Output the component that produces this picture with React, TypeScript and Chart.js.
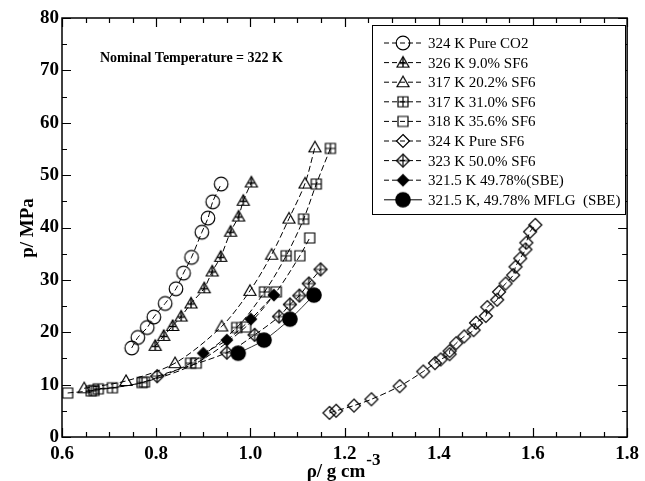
import React, { useEffect, useRef } from 'react';
import { Chart, registerables } from 'chart.js';
Chart.register(...registerables);

const FONT = '"Liberation Serif", "Times New Roman", serif';

// ---- data ----
const seriesLabels = [
  '324 K Pure CO2',
  '326 K 9.0% SF6',
  '317 K 20.2% SF6',
  '317 K 31.0% SF6',
  '318 K 35.6% SF6',
  '324 K Pure SF6',
  '323 K 50.0% SF6',
  '321.5 K 49.78%(SBE)',
  '321.5 K, 49.78% MFLG  (SBE)',
];

const co2Rho = [0.748, 0.761, 0.781, 0.795, 0.819, 0.842, 0.858, 0.875, 0.897, 0.910, 0.920, 0.938];
const co2P = [17.0, 19.0, 20.9, 22.9, 25.5, 28.3, 31.3, 34.3, 39.1, 41.8, 44.9, 48.3];

const sf6_9Rho = [0.798, 0.816, 0.835, 0.853, 0.874, 0.902, 0.919, 0.937, 0.958, 0.975, 0.985, 1.002];
const sf6_9P = [17.4, 19.3, 21.2, 23.0, 25.5, 28.4, 31.6, 34.4, 39.2, 42.1, 45.1, 48.6];

const sf6_20Rho = [0.647, 0.736, 0.840, 0.939, 0.999, 1.045, 1.082, 1.116, 1.137];
const sf6_20P = [9.3, 10.7, 14.1, 21.1, 27.9, 34.8, 41.7, 48.4, 55.3];

const sf6_31Rho = [0.662, 0.677, 0.707, 0.770, 0.873, 0.971, 1.030, 1.076, 1.113, 1.140, 1.170];
const sf6_31P = [8.8, 9.2, 9.4, 10.4, 14.1, 20.9, 27.7, 34.6, 41.6, 48.3, 55.1];

const sf6_35Rho = [0.612, 0.668, 0.775, 0.885, 0.990, 1.055, 1.105, 1.126];
const sf6_35P = [8.4, 8.9, 10.5, 14.1, 21.0, 27.7, 34.6, 38.0];

const pureSf6Rho = [1.168, 1.182, 1.220, 1.257, 1.317, 1.367, 1.392, 1.404, 1.423, 1.423, 1.437, 1.454, 1.474, 1.479, 1.500, 1.503, 1.524, 1.528, 1.542, 1.558, 1.563, 1.573, 1.584, 1.586, 1.594, 1.605];
const pureSf6P = [4.6, 5.0, 6.0, 7.2, 9.7, 12.5, 14.1, 14.8, 15.8, 16.4, 17.9, 19.2, 20.4, 21.8, 23.1, 24.8, 26.2, 27.7, 29.3, 30.9, 32.5, 34.1, 35.8, 37.1, 39.2, 40.5];

const sf6_50Rho = [0.802, 0.950, 1.009, 1.061, 1.084, 1.104, 1.124, 1.149];
const sf6_50P = [11.6, 16.1, 19.5, 23.0, 25.3, 27.0, 29.3, 32.0];

const sbeRho = [0.900, 0.950, 1.001, 1.050];
const sbeP = [16.0, 18.5, 22.5, 27.1];

const mflgRho = [0.974, 1.029, 1.084, 1.135];
const mflgP = [16.0, 18.5, 22.5, 27.1];

const xTickValues = [0.6, 0.8, 1.0, 1.2, 1.4, 1.6, 1.8];
const yTickValues = [0, 10, 20, 30, 40, 50, 60, 70, 80];

const titleText = 'Nominal Temperature = 322 K';

// ---- markers ----
type Kind = 'circle' | 'triCross' | 'tri' | 'sqPlus' | 'sq' | 'dia' | 'diaPlus' | 'diaFill' | 'circFill';
const markerKinds: Kind[] = ['circle', 'triCross', 'tri', 'sqPlus', 'sq', 'dia', 'diaPlus', 'diaFill', 'circFill'];

function makeMarker(kind: Kind): HTMLCanvasElement {
  const S = 20;
  const c = document.createElement('canvas');
  c.width = S;
  c.height = S;
  const g = c.getContext('2d')!;
  const m = S / 2;
  g.strokeStyle = '#000';
  g.fillStyle = '#000';
  g.lineWidth = 1.2;
  g.beginPath();
  switch (kind) {
    case 'circle':
      g.arc(m, m, 6.8, 0, Math.PI * 2);
      g.stroke();
      break;
    case 'circFill':
      g.arc(m, m, 7.8, 0, Math.PI * 2);
      g.fill();
      break;
    case 'tri':
    case 'triCross': {
      g.moveTo(m, m - 6);
      g.lineTo(m - 6, m + 4.5);
      g.lineTo(m + 6, m + 4.5);
      g.closePath();
      g.stroke();
      if (kind === 'triCross') {
        g.beginPath();
        g.moveTo(m, m - 6);
        g.lineTo(m, m + 4.5);
        g.moveTo(m - 3.5, m + 0.5);
        g.lineTo(m + 3.5, m + 0.5);
        g.lineWidth = 1.4;
        g.stroke();
      }
      break;
    }
    case 'sq':
    case 'sqPlus':
      g.rect(m - 5, m - 5, 10, 10);
      g.stroke();
      if (kind === 'sqPlus') {
        g.beginPath();
        g.moveTo(m, m - 5);
        g.lineTo(m, m + 5);
        g.moveTo(m - 5, m);
        g.lineTo(m + 5, m);
        g.stroke();
      }
      break;
    case 'dia':
    case 'diaPlus':
    case 'diaFill':
      g.moveTo(m, m - 6.5);
      g.lineTo(m + 6.5, m);
      g.lineTo(m, m + 6.5);
      g.lineTo(m - 6.5, m);
      g.closePath();
      if (kind === 'diaFill') g.fill();
      else g.stroke();
      if (kind === 'diaPlus') {
        g.beginPath();
        g.moveTo(m, m - 6.5);
        g.lineTo(m, m + 6.5);
        g.moveTo(m - 6.5, m);
        g.lineTo(m + 6.5, m);
        g.stroke();
      }
      break;
  }
  return c;
}

const seriesRho = [co2Rho, sf6_9Rho, sf6_20Rho, sf6_31Rho, sf6_35Rho, pureSf6Rho, sf6_50Rho, sbeRho, mflgRho];
const seriesP = [co2P, sf6_9P, sf6_20P, sf6_31P, sf6_35P, pureSf6P, sf6_50P, sbeP, mflgP];
const DASH = [6, 3];

export default function App() {
  const ref = useRef<HTMLCanvasElement | null>(null);

  useEffect(() => {
    const canvas = ref.current!;
    const markers = markerKinds.map(makeMarker);

    const datasets = seriesLabels.map((label, i) => ({
      label,
      data: seriesRho[i].map((x, j) => ({ x, y: seriesP[i][j] })),
      showLine: true,
      borderColor: i === 8 ? '#333' : '#000',
      borderWidth: 1,
      borderDash: i === 8 ? [] : DASH,
      tension: 0.3,
      pointStyle: markers[i] as any,
      pointRadius: 7,
      backgroundColor: 'transparent',
    }));

    const overlay = {
      id: 'overlay',
      afterDatasetsDraw(chart: any) {
        const ctx = chart.ctx as CanvasRenderingContext2D;
        const { left, right, top, bottom } = chart.chartArea;
        const xs = chart.scales.x;
        const ys = chart.scales.y;
        ctx.save();
        ctx.strokeStyle = '#000';
        ctx.lineWidth = 1.5;
        ctx.setLineDash([]);
        ctx.strokeRect(left, top, right - left, bottom - top);
        ctx.lineWidth = 1.2;
        ctx.beginPath();
        for (let i = 0; i <= 24; i++) {
          const px = Math.round(xs.getPixelForValue(0.6 + i * 0.05)) + 0.5;
          const len = i % 4 === 0 ? 9 : 5;
          ctx.moveTo(px, bottom);
          ctx.lineTo(px, bottom - len);
          ctx.moveTo(px, top);
          ctx.lineTo(px, top + len);
        }
        for (let i = 0; i <= 16; i++) {
          const py = Math.round(ys.getPixelForValue(i * 5)) + 0.5;
          const len = i % 2 === 0 ? 9 : 5;
          ctx.moveTo(left, py);
          ctx.lineTo(left + len, py);
          ctx.moveTo(right, py);
          ctx.lineTo(right - len, py);
        }
        ctx.stroke();
        ctx.restore();
      },
      afterDraw(chart: any) {
        const ctx = chart.ctx as CanvasRenderingContext2D;
        ctx.save();
        ctx.fillStyle = '#000';
        // title text
        ctx.font = `bold 14px ${FONT}`;
        ctx.textBaseline = 'middle';
        ctx.textAlign = 'left';
        ctx.fillText(titleText, 100, 58);

        // y-axis title
        ctx.save();
        ctx.translate(28, 228);
        ctx.rotate(-Math.PI / 2);
        ctx.textAlign = 'center';
        ctx.font = `bold 19px ${FONT}`;
        ctx.fillText('p/ MPa', 0, 0);
        ctx.restore();

        // x-axis title with superscript
        ctx.font = `bold 19px ${FONT}`;
        ctx.textAlign = 'left';
        const main = 'ρ/ g cm';
        const w = ctx.measureText(main).width;
        const x0 = 342 - w / 2 - 6;
        ctx.fillText(main, x0, 472);
        ctx.font = `bold 17px ${FONT}`;
        ctx.fillText('-3', x0 + w + 1, 461);

        // legend
        const bx = 372.5, by = 25.5, bw = 253, bh = 189;
        ctx.fillStyle = '#fff';
        ctx.fillRect(bx, by, bw, bh);
        ctx.strokeStyle = '#000';
        ctx.lineWidth = 1;
        ctx.strokeRect(bx, by, bw, bh);
        ctx.font = `15px ${FONT}`;
        ctx.textBaseline = 'middle';
        for (let i = 0; i < seriesLabels.length; i++) {
          const y = 43 + i * 19.6;
          ctx.beginPath();
          ctx.setLineDash(i === 8 ? [] : [5, 3]);
          ctx.lineWidth = 1;
          ctx.moveTo(384, y);
          ctx.lineTo(422, y);
          ctx.stroke();
          ctx.setLineDash([]);
          const mk = markers[i];
          ctx.drawImage(mk, 403 - mk.width / 2, y - mk.height / 2);
          ctx.fillStyle = '#000';
          ctx.fillText(seriesLabels[i], 428, y + 1);
        }
        ctx.restore();
      },
    };

    const chart = new Chart(canvas, {
      type: 'scatter',
      data: { datasets: datasets as any },
      options: {
        animation: false,
        responsive: false,
        devicePixelRatio: 1,
        layout: { padding: { top: 18, right: 10, left: 0, bottom: 0 } },
        plugins: { legend: { display: false }, tooltip: { enabled: false } },
        scales: {
          x: {
            type: 'linear',
            min: 0.6,
            max: 1.8,
            afterFit: (s: any) => { s.height = 44; },
            afterBuildTicks: (s: any) => { s.ticks = xTickValues.map((v) => ({ value: v })); },
            grid: { display: false, drawTicks: false },
            border: { display: false },
            ticks: {
              padding: 6,
              color: '#000',
              font: { family: FONT, size: 19, weight: 'bold' },
              callback: (v: any) => Number(v).toFixed(1),
            },
          },
          y: {
            type: 'linear',
            min: 0,
            max: 80,
            afterFit: (s: any) => { s.width = 62; },
            afterBuildTicks: (s: any) => { s.ticks = yTickValues.map((v) => ({ value: v })); },
            grid: { display: false, drawTicks: false },
            border: { display: false },
            ticks: {
              padding: 3,
              color: '#000',
              font: { family: FONT, size: 19, weight: 'bold' },
              callback: (v: any) => String(Math.round(Number(v))),
            },
          },
        },
      },
      plugins: [overlay],
    });
    return () => chart.destroy();
  }, []);

  return (
    <div style={{ position: 'fixed', left: 0, top: 0, width: 645, height: 481, background: '#fff' }}>
      <canvas ref={ref} width={645} height={481} style={{ width: 645, height: 481, display: 'block' }} />
    </div>
  );
}
